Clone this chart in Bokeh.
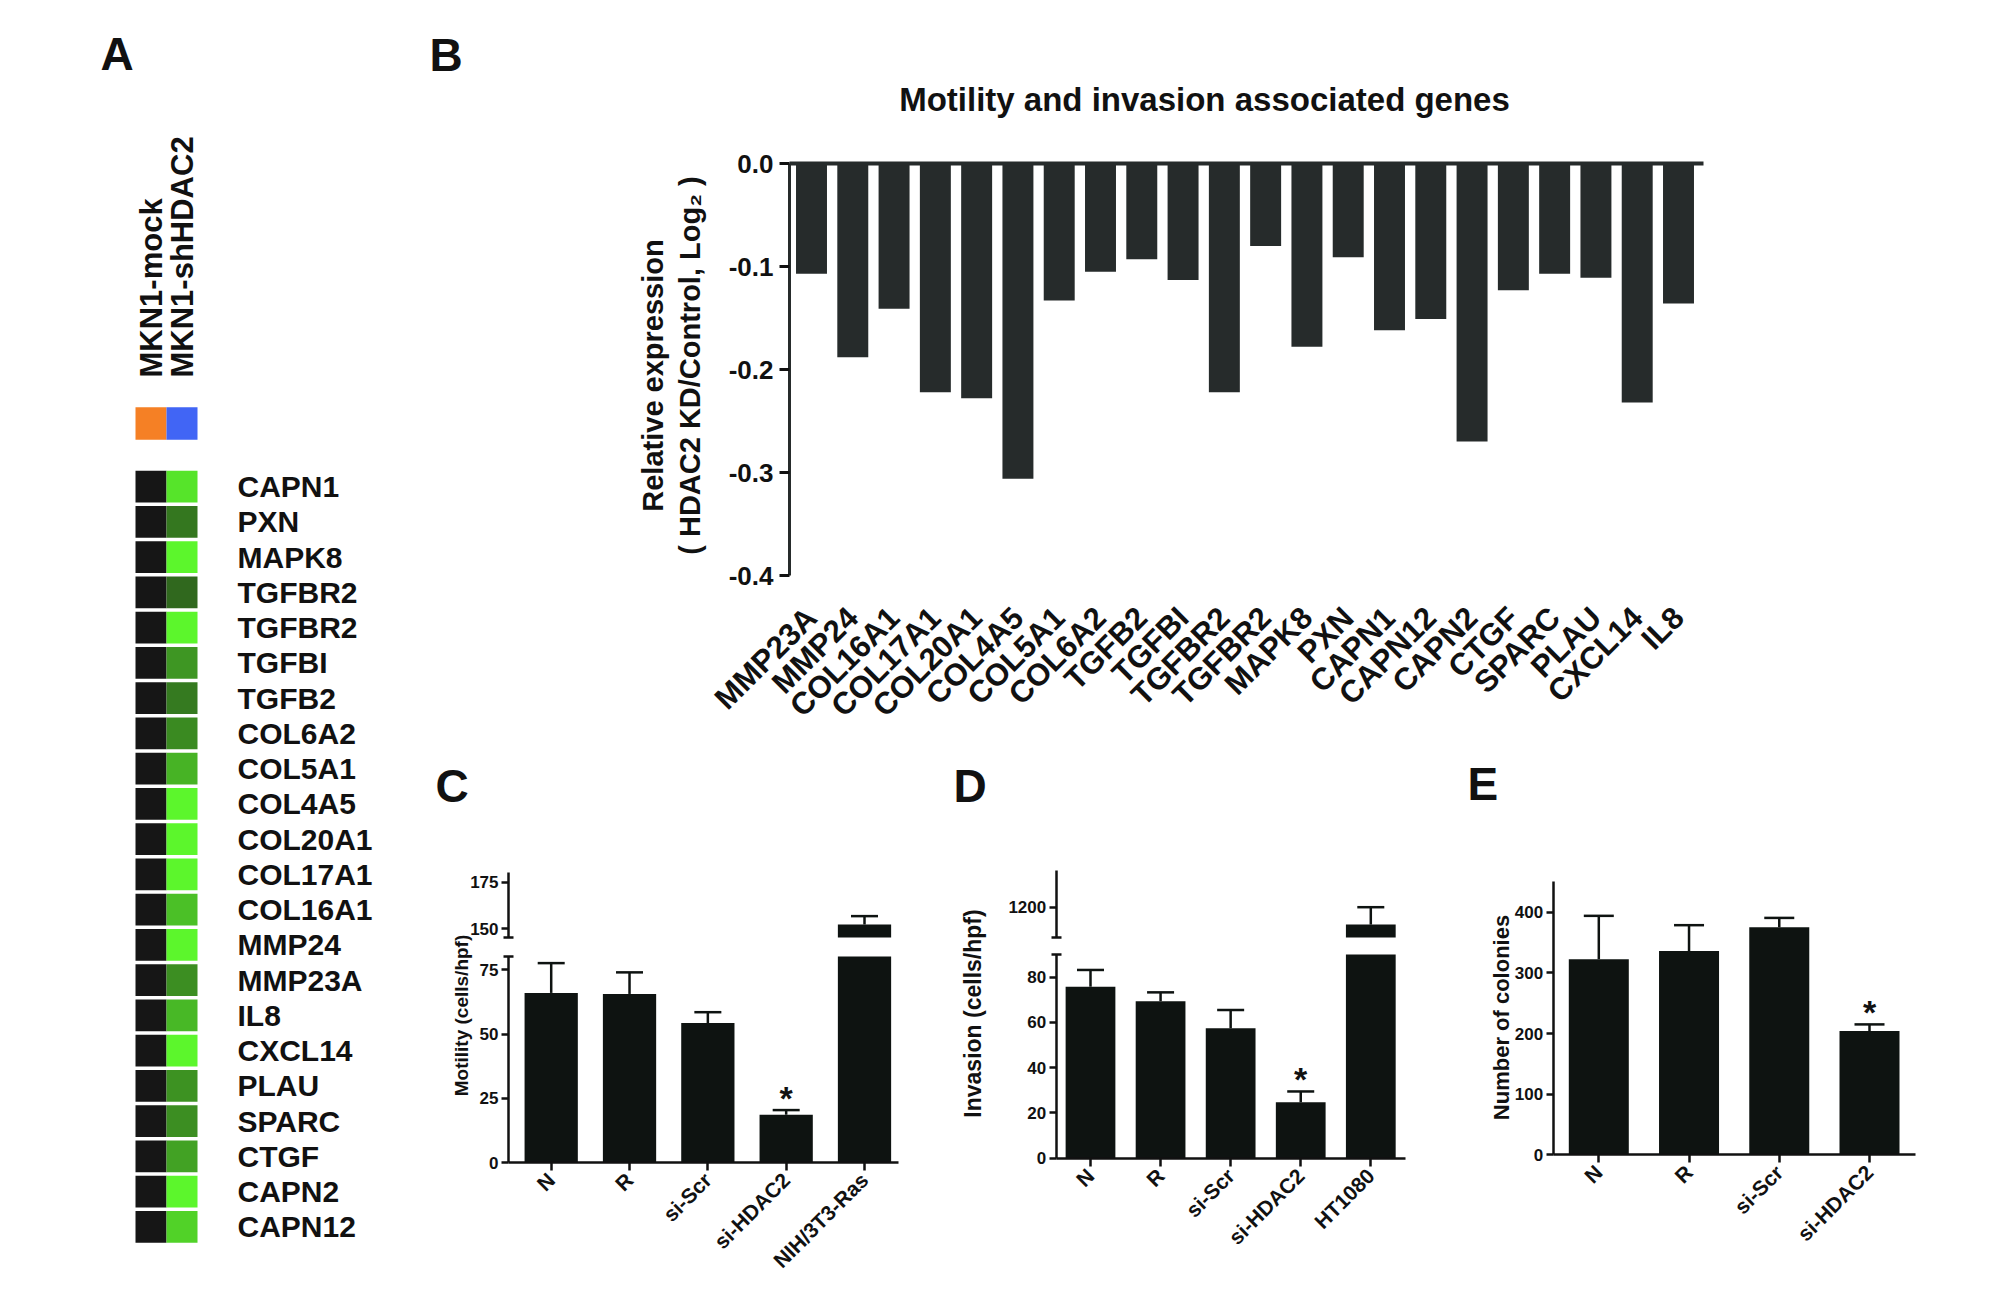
import math
from bokeh.plotting import figure
from bokeh.models import (Range1d, FixedTicker, Label, LinearColorMapper,
                          ColumnDataSource, PrintfTickFormatter, LinearAxis)
from bokeh.transform import transform
from bokeh.layouts import row, column
from bokeh.embed import file_html
from bokeh.resources import INLINE
from bokeh.core.properties import value

FONT = "Liberation Sans"
INK = "#111111"
BAR_B = "#262b2b"
BAR = "#0e1311"

# ---------------- data ----------------
b_genes = ["MMP23A", "MMP24", "COL16A1", "COL17A1", "COL20A1", "COL4A5", "COL5A1",
           "COL6A2", "TGFB2", "TGFBI", "TGFBR2", "TGFBR2", "MAPK8", "PXN", "CAPN1",
           "CAPN12", "CAPN2", "CTGF", "SPARC", "PLAU", "CXCL14", "IL8"]
b_values = [-0.107, -0.188, -0.141, -0.222, -0.228, -0.306, -0.133, -0.105, -0.093,
            -0.113, -0.222, -0.080, -0.178, -0.091, -0.162, -0.151, -0.270, -0.123,
            -0.107, -0.111, -0.232, -0.136]
b_yticks = [0.0, -0.1, -0.2, -0.3, -0.4]
b_title = "Motility and invasion associated genes"

heat_samples = ["MKN1-mock", "MKN1-shHDAC2"]
heat_sample_colors = ["#f58025", "#4165f5"]
heat_genes = ["CAPN1", "PXN", "MAPK8", "TGFBR2", "TGFBR2", "TGFBI", "TGFB2", "COL6A2",
              "COL5A1", "COL4A5", "COL20A1", "COL17A1", "COL16A1", "MMP24", "MMP23A",
              "IL8", "CXCL14", "PLAU", "SPARC", "CTGF", "CAPN2", "CAPN12"]
heat_order = [14, 13, 12, 11, 10, 9, 8, 7, 6, 5, 4, 3, 2, 1, 0, 21, 20, 19, 18, 17, 16, 15]
heat_mock = [0.0, 0.0, 0.0, 0.0, 0.0, 0.0, 0.0, 0.0, 0.0, 0.0, 0.0,
             0.0, 0.0, 0.0, 0.0, 0.0, 0.0, 0.0, 0.0, 0.0, 0.0, 0.0]
heat_kd = [b_values[i] for i in heat_order]

c_groups = ["N", "R", "si-Scr", "si-HDAC2", "NIH/3T3-Ras"]
c_means = [66.0, 65.6, 54.3, 18.6, 152.3]
c_sem = [11.6, 8.4, 4.2, 1.8, 4.5]
c_low_ticks = [0, 25, 50, 75]
c_up_ticks = [150, 175]

d_groups = ["N", "R", "si-Scr", "si-HDAC2", "HT1080"]
d_means = [75.8, 69.4, 57.4, 24.7, 1142.0]
d_sem = [7.4, 3.9, 8.1, 4.8, 58.0]
d_low_ticks = [0, 20, 40, 60, 80]
d_up_ticks = [1200]

e_groups = ["N", "R", "si-Scr", "si-HDAC2"]
e_means = [322.5, 336.0, 375.0, 204.0]
e_sem = [71.5, 42.6, 15.6, 11.0]
e_ticks = [0, 100, 200, 300, 400]

star_index = 3


# ---------------- helpers ----------------
def lin(p0, v0, p1, v1):
    k = (v1 - v0) / (p1 - p0)
    return lambda p: v0 + (p - p0) * k


class Panel:
    """A figure whose frame fills the whole figure; page px -> data via linear maps."""

    def __init__(self, left, top, w, h, xmap, ymap, upmap=None):
        self.fx = lin(*xmap)
        self.fy = lin(*ymap)
        kw = {}
        if upmap is not None:
            self.fu = lin(*upmap)
            kw["extra_y_ranges"] = {"up": Range1d(self.fu(top + h), self.fu(top))}
        self.p = figure(width=w, height=h,
                        x_range=Range1d(self.fx(left), self.fx(left + w)),
                        y_range=Range1d(self.fy(top + h), self.fy(top)),
                        min_border_left=0, min_border_right=0,
                        min_border_top=0, min_border_bottom=0,
                        x_axis_location=None, y_axis_location=None,
                        toolbar_location=None, output_backend="svg", title=None, **kw)
        self.p.grid.visible = False
        self.p.outline_line_color = None
        self.p.background_fill_color = "white"
        self.p.border_fill_color = "white"

    def sx(self, n):
        return n * (self.fx(1) - self.fx(0))

    def sy(self, n):
        return n * (self.fy(0) - self.fy(1))

    def label(self, px, py, text, size, angle=0.0, align="left", baseline="middle"):
        self.p.add_layout(Label(x=self.fx(px), y=self.fy(py), text=text, text_font=FONT,
                                text_font_size=f"{size}px", text_font_style="bold",
                                text_color=INK, angle=angle, text_align=align,
                                text_baseline=baseline))


def style_axis(ax, fs, lw, tick_out, standoff):
    ax.axis_line_width = lw
    ax.axis_line_color = INK
    ax.major_tick_line_width = lw
    ax.major_tick_line_color = INK
    ax.major_tick_out = tick_out
    ax.major_tick_in = 0
    ax.minor_tick_line_width = lw
    ax.minor_tick_line_color = INK
    ax.minor_tick_in = 5
    ax.minor_tick_out = 5
    ax.major_label_text_font = FONT
    ax.major_label_text_font_size = f"{fs}px"
    ax.major_label_text_font_style = "bold"
    ax.major_label_text_color = INK
    ax.major_label_standoff = standoff


# ---------------- panel A: heatmap ----------------
A = Panel(0, 0, 420, 1290, (135, 0, 197, 2), (398, -2.5, 1244, 21.5))
pa = A.p
col_x = [0.5, 1.5]
hx = [col_x[0] for _ in heat_genes] + [col_x[1] for _ in heat_genes]
hy = list(range(len(heat_genes))) * 2
hv = heat_mock + heat_kd
N = 64
bright = (92, 246, 44)
base = (22, 22, 22)
pal = []
for i in range(N):
    t = (1 - i / (N - 1)) ** 1.3
    c = tuple(int(round(base[k] + t * (bright[k] - base[k]))) for k in range(3))
    pal.append("#%02x%02x%02x" % c)
mapper = LinearColorMapper(palette=pal, low=-0.175, high=0.0)
hsrc = ColumnDataSource(dict(x=hx, y=hy, v=hv))
pa.rect(x="x", y="y", width=1.0, height=0.9, source=hsrc,
        fill_color=transform("v", mapper), line_color=None)
pa.rect(x=col_x, y=[-1.79, -1.79], width=1.0, height=0.92,
        fill_color=heat_sample_colors, line_color=None)

xa = LinearAxis(ticker=FixedTicker(ticks=col_x), fixed_location=-2.5)
xa.major_label_overrides = {col_x[0]: heat_samples[0], col_x[1]: heat_samples[1]}
style_axis(xa, 31, 1, 0, 21)
xa.axis_line_color = None
xa.major_tick_line_color = None
xa.major_label_orientation = math.pi / 2
pa.add_layout(xa, "above")

ya = LinearAxis(ticker=FixedTicker(ticks=list(range(len(heat_genes)))), fixed_location=2)
ya.major_label_overrides = {i: g for i, g in enumerate(heat_genes)}
style_axis(ya, 30, 1, 0, 40)
ya.axis_line_color = None
ya.major_tick_line_color = None
pa.add_layout(ya, "right")

A.label(100, 53, "A", 46)

# ---------------- panel B: bar chart ----------------
B = Panel(420, 0, 1580, 745, (811, 0, 1678, 21), (163, 0.0, 575, -0.4))
pb = B.p
bx = list(range(len(b_genes)))
pb.vbar(x=bx, top=0, bottom=b_values, width=0.75, fill_color=BAR_B, line_color=None)

yb = LinearAxis(ticker=FixedTicker(ticks=b_yticks), fixed_location=B.fx(789),
                bounds=(-0.4, 0.0), formatter=PrintfTickFormatter(format="%.1f"))
style_axis(yb, 26, 3, 10, 6)
yb.axis_line_color = BAR_B
pb.add_layout(yb, "left")

xb = LinearAxis(ticker=FixedTicker(ticks=bx), fixed_location=-0.4)
xb.major_label_overrides = {i: g for i, g in enumerate(b_genes)}
style_axis(xb, 31, 1, 0, 37)
xb.axis_line_color = None
xb.major_tick_line_color = None
xb.major_label_orientation = math.pi / 4
pb.add_layout(xb, "below")

zb = LinearAxis(ticker=FixedTicker(ticks=[]), fixed_location=0.0,
                bounds=(B.fx(789), B.fx(1703)), major_label_text_font_size="0px",
                axis_line_width=4, axis_line_color=BAR_B,
                major_tick_line_color=None, minor_tick_line_color=None)
pb.add_layout(zb, "above")

B.label(1204, 99, b_title, 33, align="center")
B.label(652, 375, "Relative expression", 29, angle=math.pi / 2, align="center")
B.label(689, 365, "( HDAC2 KD/Control, Log\u2082 )", 29, angle=math.pi / 2, align="center")
B.label(429, 54, "B", 46)


# ---------------- panels C, D, E ----------------
def bar_panel(P, groups, means, sem, bw, cap_px, axis_px, right_px,
              low_ticks, low_top_px, up_ticks=None, up_bottom_px=None, up_top_px=None,
              low_cap=None, up_cap=None, tick_fs=17, x_fs=21, star_fs=34):
    p = P.p
    xs = list(range(len(groups)))
    errs = [m + s for m, s in zip(means, sem)]
    low_top = P.fy(low_top_px)
    hw = P.sx(cap_px / 2)
    lo = [i for i in xs if means[i] <= low_top]
    hi = [i for i in xs if means[i] > low_top]
    p.vbar(x=xs, bottom=0, top=[min(m, low_top) for m in means], width=bw,
           fill_color=BAR, line_color=None)
    p.segment(x0=[xs[i] for i in lo], y0=[means[i] for i in lo],
              x1=[xs[i] for i in lo], y1=[errs[i] for i in lo],
              line_width=2.5, line_color=BAR)
    p.segment(x0=[xs[i] - hw for i in lo], y0=[errs[i] for i in lo],
              x1=[xs[i] + hw for i in lo], y1=[errs[i] for i in lo],
              line_width=2.5, line_color=BAR)
    ax_x = P.fx(axis_px)
    yl = LinearAxis(ticker=FixedTicker(ticks=low_ticks,
                                       minor_ticks=[low_cap] if low_cap is not None else []),
                    fixed_location=ax_x, bounds=(0, low_top))
    style_axis(yl, tick_fs, 2.5, 7, 3)
    p.add_layout(yl, "left")
    if up_ticks is not None:
        up_bottom = P.fu(up_bottom_px)
        p.vbar(x=[xs[i] for i in hi], bottom=up_bottom, top=[means[i] for i in hi],
               width=bw, fill_color=BAR, line_color=None, y_range_name="up")
        p.segment(x0=[xs[i] for i in hi], y0=[means[i] for i in hi],
                  x1=[xs[i] for i in hi], y1=[errs[i] for i in hi],
                  line_width=2.5, line_color=BAR, y_range_name="up")
        p.segment(x0=[xs[i] - hw for i in hi], y0=[errs[i] for i in hi],
                  x1=[xs[i] + hw for i in hi], y1=[errs[i] for i in hi],
                  line_width=2.5, line_color=BAR, y_range_name="up")
        yu = LinearAxis(ticker=FixedTicker(ticks=up_ticks, minor_ticks=[up_cap]),
                        fixed_location=ax_x, bounds=(up_bottom, P.fu(up_top_px)),
                        y_range_name="up")
        style_axis(yu, tick_fs, 2.5, 7, 3)
        p.add_layout(yu, "left")
    xax = LinearAxis(ticker=FixedTicker(ticks=xs), fixed_location=0,
                     bounds=(ax_x, P.fx(right_px)))
    xax.major_label_overrides = {i: g for i, g in enumerate(groups)}
    style_axis(xax, x_fs, 2.5, 8, 6)
    xax.major_label_orientation = math.pi / 4
    p.add_layout(xax, "below")
    p.text(x=[xs[star_index]], y=[errs[star_index] + P.sy(12)], text=["*"],
           text_font=value(FONT), text_font_size=f"{star_fs}px",
           text_font_style="bold", text_align="center",
           text_baseline="alphabetic", text_color=INK)


# C
C = Panel(420, 745, 510, 545, (550.7, 0, 864, 4), (1162, 0, 969.3, 75),
          upmap=(928.3, 150, 881.7, 175))
bar_panel(C, c_groups, c_means, c_sem, 0.68, 27, 508, 898, c_low_ticks, 956,
          up_ticks=c_up_ticks, up_bottom_px=937, up_top_px=872, low_cap=80, up_cap=145.6)
C.label(435, 785, "C", 46)
C.label(461, 1015, "Motility (cells/hpf)", 19, angle=math.pi / 2, align="center")

# D
D = Panel(930, 745, 510, 545, (1090, 0, 1370.3, 4), (1157.7, 0, 976.7, 80),
          upmap=(906.7, 1200, 936.7, 1100))
bar_panel(D, d_groups, d_means, d_sem, 0.71, 27, 1055.7, 1405, d_low_ticks, 954,
          up_ticks=d_up_ticks, up_bottom_px=937, up_top_px=870, low_cap=90, up_cap=1100)
D.label(953, 785, "D", 46)
D.label(972, 1013, "Invasion (cells/hpf)", 23, angle=math.pi / 2, align="center")

# E
E = Panel(1440, 745, 560, 545, (1598.3, 0, 1869, 3), (1154.3, 0, 911.7, 400))
bar_panel(E, e_groups, e_means, e_sem, 0.665, 30, 1552.7, 1915, e_ticks, 881.4)
E.label(1467, 783, "E", 46)
E.label(1501, 1017, "Number of colonies", 22, angle=math.pi / 2, align="center")

layout = row(A.p, column(B.p, row(C.p, D.p, E.p)))

open("out.html", "w").write(file_html(layout, INLINE))
